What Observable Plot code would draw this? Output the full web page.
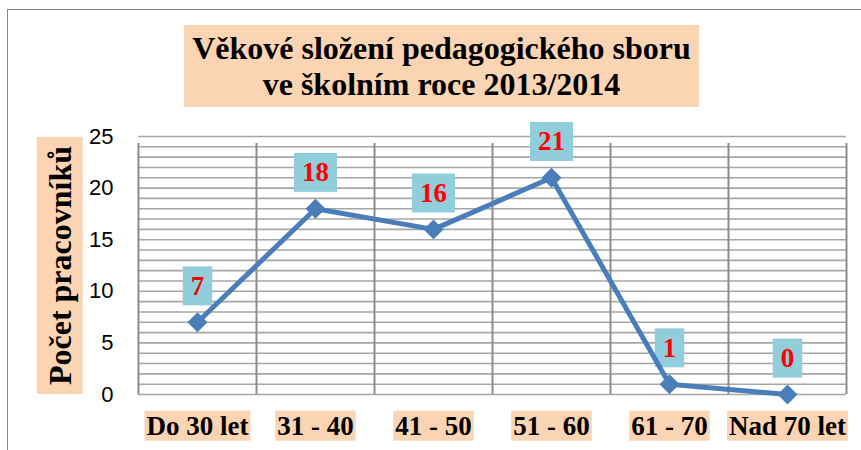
<!DOCTYPE html>
<html>
<head>
<meta charset="utf-8">
<script src="https://cdn.jsdelivr.net/npm/d3@7"></script>
<script src="https://cdn.jsdelivr.net/npm/@observablehq/plot@0.6"></script>
<style>
  body { margin: 0; background: #fff; overflow: hidden; }
  #wrap { position: relative; width: 861px; height: 450px; overflow: hidden; }
  #border { position: absolute; left: 7px; top: 9px; width: 900px; height: 500px;
            border-top: 1.5px solid #878787; border-left: 1.5px solid #878787; }
  #chart { position: absolute; left: 0; top: 0; }
  #title { position: absolute; left: 184px; top: 25px; width: 515px; height: 82px;
           background: #FBD4B4; font: bold 32px "Liberation Serif", "Times New Roman", serif;
           line-height: 36px; text-align: center; padding-top: 5px; box-sizing: border-box;
           white-space: nowrap; color: #000; }
</style>
</head>
<body>
<div id="wrap">
  <div id="border"></div>
  <div id="chart"></div>
  <div id="title"></div>
</div>
<script>
const categories = ["Do 30 let", "31 - 40", "41 - 50", "51 - 60", "61 - 70", "Nad 70 let"];
const values = [7, 18, 16, 21, 1, 0];
const yTicks = [0, 5, 10, 15, 20, 25];
const yLabel = "Počet pracovníků";
const titleLines = ["Věkové složení pedagogického sboru", "ve školním roce 2013/2014"];

const data = categories.map((c, i) => ({i, c, v: values[i]}));
const bounds = d3.range(categories.length + 1).map(k => k - 0.5);
const serif = "'Liberation Serif', 'Times New Roman', serif";

const chart = Plot.plot({
  width: 861, height: 450,
  marginTop: 136, marginBottom: 56, marginLeft: 138, marginRight: 15,
  style: {background: "transparent", overflow: "visible"},
  x: {type: "linear", domain: [-0.5, categories.length - 0.5], label: null},
  y: {domain: [0, 25], label: null},
  marks: [
    Plot.gridY({ticks: 25, stroke: "#a6a6a6", strokeOpacity: 1, strokeWidth: 1.6}),
    Plot.ruleX(bounds, {y1: 0, y2: 25, stroke: "#8c8c8c", strokeWidth: 2, insetBottom: -7}),
    Plot.axisY({ticks: yTicks, tickSize: 0, tickPadding: 25, fill: "#000", label: null}),
    Plot.axisX({ticks: data.map(d => d.i), tickFormat: i => categories[i], tickSize: 0, tickPadding: 21,
                fill: "#000", label: null}),
    Plot.text([yLabel], {text: d => d, frameAnchor: "left", rotate: -90, dx: -78, textAnchor: "middle",
                fontSize: 32, fontWeight: "bold", fontFamily: serif, fill: "#000", lineAnchor: "middle"}),
    Plot.text(data, {x: "i", y: "v", text: d => String(d.v), dy: -36, lineAnchor: "middle",
                fill: "#FF0000", fontSize: 27, fontWeight: "bold", fontFamily: serif}),
    Plot.line(data, {x: "i", y: "v", stroke: "#4A7EBB", strokeWidth: 5}),
    Plot.dot(data, {x: "i", y: "v", symbol: "diamond2", r: 9, fill: "#4A7EBB", stroke: "none"})
  ]
});
document.getElementById("chart").appendChild(chart);
document.getElementById("title").innerHTML = titleLines.join("<br>");

const svg = d3.select(chart);
svg.selectAll('g[aria-label="y-axis tick label"] text')
  .style("font-size", "22px").style("font-family", "'Liberation Sans', Arial, sans-serif").style("fill", "#000");
svg.selectAll('g[aria-label="x-axis tick label"] text')
  .style("font-size", "27px").style("font-weight", "bold").style("font-family", serif).style("fill", "#000");

function addBg(els, fill, px, py) {
  els.forEach(t => {
    const b = t.getBBox();
    const r = document.createElementNS("http://www.w3.org/2000/svg", "rect");
    r.setAttribute("x", b.x - px);
    r.setAttribute("y", b.y - py);
    r.setAttribute("width", b.width + 2 * px);
    r.setAttribute("height", b.height + 2 * py);
    r.setAttribute("fill", fill);
    const tr = t.getAttribute("transform");
    if (tr) r.setAttribute("transform", tr);
    t.parentNode.insertBefore(r, t);
  });
}
addBg(svg.selectAll('g[aria-label="x-axis tick label"] text').nodes(), "#FBD4B4", 2, 0);
const textGroups = svg.selectAll('g[aria-label="text"]').nodes();
addBg(d3.select(textGroups[0]).selectAll("text").nodes(), "#FBD4B4", 9, 5);
addBg(d3.select(textGroups[1]).selectAll("text").nodes(), "#92CDDC", 8, 4.5);
</script>
</body>
</html>
